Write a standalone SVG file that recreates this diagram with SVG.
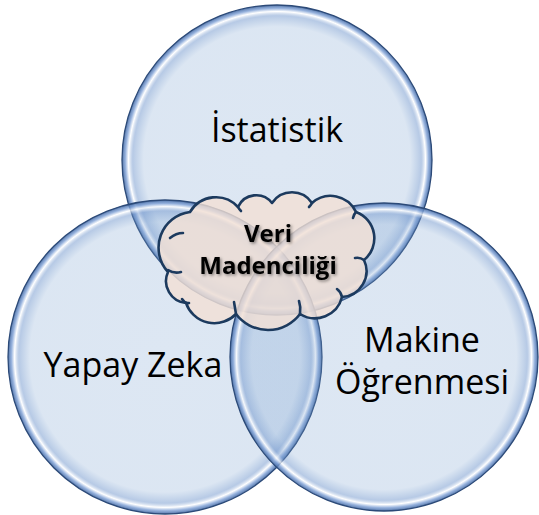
<svg xmlns="http://www.w3.org/2000/svg" width="539" height="515" viewBox="0 0 539 515">
<defs>
<radialGradient id="cg" cx="0.5" cy="0.5" r="0.5">
<stop offset="0" stop-color="#779fcf" stop-opacity="0.25"/>
<stop offset="0.86" stop-color="#779fcf" stop-opacity="0.26"/>
<stop offset="0.93" stop-color="#6f95cc" stop-opacity="0.5"/>
<stop offset="0.958" stop-color="#ffffff" stop-opacity="0.75"/>
<stop offset="0.978" stop-color="#7fa1d6" stop-opacity="0.8"/>
<stop offset="1" stop-color="#3f659f" stop-opacity="0.9"/>
</radialGradient>
<filter id="ts" x="-20%" y="-40%" width="140%" height="180%">
<feDropShadow dx="1.5" dy="1.5" stdDeviation="1.5" flood-color="#000" flood-opacity="0.45"/>
</filter>
</defs>
<style>
.c{fill:url(#cg);stroke:#2c4a78;stroke-width:1.3}
.lbl{font-family:"Open Sans","Noto Sans",sans-serif;font-size:34px;fill:#000;text-anchor:middle}
.cl{fill:#f2e0d5;fill-opacity:0.8;stroke:#1c3a5e;stroke-width:2.6;stroke-linejoin:round}
.hk{fill:none;stroke:#1c3a5e;stroke-width:2.6;stroke-linecap:round}
.ct{font-family:"Open Sans","Noto Sans",sans-serif;font-size:24px;font-weight:bold;fill:#000;text-anchor:middle;filter:url(#ts)}
</style>
<rect width="539" height="515" fill="#ffffff"/>
<g id="istatistik">
<circle class="c" cx="277" cy="160" r="155"/>
<text class="lbl" x="277" y="142">İstatistik</text>
</g>
<g id="yapay-zeka">
<circle class="c" cx="165" cy="357" r="157"/>
<text class="lbl" x="133" y="377">Yapay Zeka</text>
</g>
<g id="makine-ogrenmesi">
<circle class="c" cx="384" cy="357" r="154"/>
<text class="lbl" x="422" y="352">Makine</text>
<text class="lbl" x="422" y="394">Öğrenmesi</text>
</g>
<g id="veri-madenciligi">
<path class="cl" d="M190,212 A36,36 0 0 0 168,272 A22,22 0 0 0 186,303 A30,30 0 0 0 236,314 A40,40 0 0 0 300,314 A28,28 0 0 0 342,297 A26,26 0 0 0 364,260 A28,28 0 0 0 356,212 A28,28 0 0 0 312,203 A24,24 0 0 0 272,203 A20,20 0 0 0 238,207 A30,30 0 0 0 190,212 Z"/>
<path class="hk" d="M170,238 Q176,233 183,233"/>
<path class="hk" d="M168,270 Q174,274 181,272"/>
<path class="hk" d="M182,299 Q185,304 189,303"/>
<path class="hk" d="M234,302 Q235,308 236,314"/>
<path class="hk" d="M300,314 Q301,307 299,301"/>
<path class="hk" d="M342,297 Q341,292 337,289"/>
<path class="hk" d="M364,260 Q360,257 355,258"/>
<path class="hk" d="M356,212 Q354,214 353,218"/>
<path class="hk" d="M312,203 Q311,205 309,207"/>
<path class="hk" d="M238,207 Q239,209 241,211"/>
<text class="ct" x="268" y="242">Veri</text>
<text class="ct" x="268" y="274">Madenciliği</text>
</g>
<g id="connectors"/>
</svg>
